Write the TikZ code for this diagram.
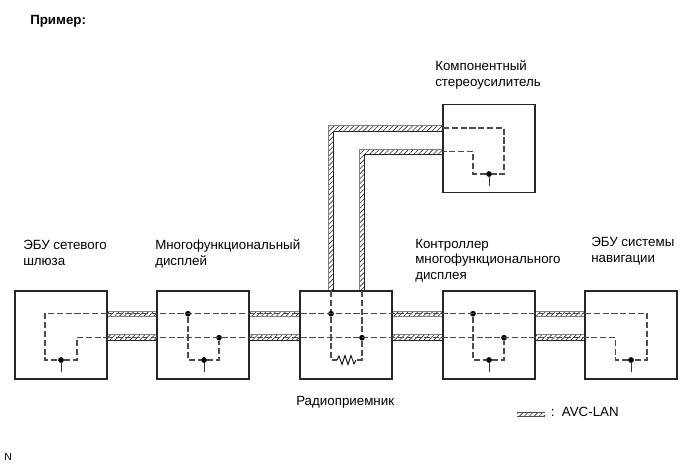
\documentclass[tikz,border=0pt]{standalone}
\usepackage{fontspec}
\setmainfont{Liberation Sans}
\usetikzlibrary{patterns.meta}
\tikzset{
  unit/.style={draw=black!85,line width=1.1pt,fill=none,minimum width=69pt,minimum height=66pt,inner sep=0pt,outer sep=0pt},
  sig/.style={draw=black!70,line width=0.85pt,dash pattern=on 4.6pt off 2pt},
  dotn/.style={circle,fill=black,inner sep=0pt,minimum size=4.3pt},
  stub/.style={draw=black!80,line width=0.7pt},
  cablefill/.style={pattern={Lines[angle=45,distance=2.6pt,line width=0.45pt]},pattern color=black!85},
  edgegray/.style={draw=black!50,line width=0.7pt},
  edgeblack/.style={draw=black!85,line width=0.65pt},
  lbl/.style={anchor=base west,inner sep=0pt,font=\fontsize{10}{12}\selectfont},
}
\newcommand{\hcable}[4]{% from, to, y top, y bottom
  \fill[cablefill] (#1 |- 0,#3) rectangle (#2 |- 0,#4);
  \draw[edgegray] (#1 |- 0,#3) -- (#2 |- 0,#3);
  \draw[edgegray] (#1 |- 0,#4) -- (#2 |- 0,#4);
}
\newcommand{\hcableb}[4]{%
  \fill[cablefill] (#1 |- 0,#3) rectangle (#2 |- 0,#4);
  \draw[edgegray] (#1 |- 0,#3) -- (#2 |- 0,#3);
  \draw[edgeblack] (#1 |- 0,#4) -- (#2 |- 0,#4);
}
\begin{document}
\begin{tikzpicture}[x=0.75pt,y=-0.75pt]
\useasboundingbox (0,0) rectangle (690,465);
% units
\node[unit] (b1) at (61,335) {};
\node[unit] (b2) at (203,335) {};
\node[unit] (b3) at (346,335) {};
\node[unit] (b4) at (489,335) {};
\node[unit] (b5) at (631,335) {};
\node[unit] (amp) at (489,148.5) {};
% horizontal cables
\foreach \a/\b in {b1/b2,b2/b3,b3/b4,b4/b5}{
  \hcable{\a.east}{\b.west}{311.5}{316}
  \hcableb{\a.east}{\b.west}{334.5}{340}
}
% L-shaped cables
\fill[cablefill] (328,0 |- b3.north) -- (328,125.5) -- (amp.west |- 0,125.5) -- (amp.west |- 0,131) -- (333.5,131) -- (333.5,0 |- b3.north) -- cycle;
\fill[cablefill] (359,0 |- b3.north) -- (359,149) -- (amp.west |- 0,149) -- (amp.west |- 0,154.5) -- (364.5,154.5) -- (364.5,0 |- b3.north) -- cycle;
\draw[edgegray] (328,0 |- b3.north) -- (328,125.5) -- (amp.west |- 0,125.5);
\draw[edgeblack] (333.5,0 |- b3.north) -- (333.5,131) -- (amp.west |- 0,131);
\draw[edgegray] (359,0 |- b3.north) -- (359,149) -- (amp.west |- 0,149);
\draw[edgeblack] (364.5,0 |- b3.north) -- (364.5,154.5) -- (amp.west |- 0,154.5);
% redraw unit outlines over cable ends
\foreach \n in {b1,b2,b3,b4,b5,amp}{\draw[draw=black!85,line width=1.1pt] (\n.north west) rectangle (\n.south east);}
% dots
\node[dotn] (d1) at (61,360) {};
\node[dotn] (d2a) at (188,313.7) {};
\node[dotn] (d2b) at (219,337.7) {};
\node[dotn] (d2c) at (204,360) {};
\node[dotn] (d3a) at (331,313.7) {};
\node[dotn] (d3b) at (362,337.7) {};
\node[dotn] (d4a) at (473,313.7) {};
\node[dotn] (d4b) at (504,337.7) {};
\node[dotn] (d4c) at (489,360) {};
\node[dotn] (d5) at (631,360) {};
\node[dotn] (da) at (489,174) {};
% box 1
\draw[sig] (b1.east |- 0,313.7) -- (45,313.7) -- (45,360) -- (d1) -- (77,360) -- (77,337.7) -- (b1.east |- 0,337.7);
\draw[stub] (d1) -- (61,372);
% horizontal dashed through boxes 2,3,4 and cables
\draw[sig] (b1.east |- 0,313.7) -- (b5.west |- 0,313.7);
\draw[sig] (b1.east |- 0,337.7) -- (b5.west |- 0,337.7);
% box 2
\draw[sig] (d2a) -- (188,360) -- (d2c) -- (219,360) -- (d2b);
\draw[stub] (d2c) -- (204,372);
% box 3
\draw[sig] (d3a |- b3.north) -- (d3a) -- (331,360) -- (337,360);
\draw[sig] (d3b |- b3.north) -- (d3b) -- (362,360) -- (356,360);
\draw[line width=0.6pt] (337,360) -- (339,356) -- (342,364.5) -- (345,355.5) -- (348,364.5) -- (351,355.5) -- (354,364) -- (356,360);
% box 4
\draw[sig] (d4a) -- (473,360) -- (d4c) -- (504,360) -- (d4b);
\draw[stub] (d4c) -- (489,372);
% box 5
\draw[sig] (b5.west |- 0,313.7) -- (647,313.7) -- (647,360) -- (d5) -- (615.5,360) -- (615.5,337.7) -- (b5.west |- 0,337.7);
\draw[stub] (d5) -- (631,372);
% amp
\draw[sig] (amp.west |- 0,128) -- (504,128) -- (504,174) -- (da) -- (473,174) -- (473,151.7) -- (amp.west |- 0,151.7);
\draw[stub] (da) -- (489,186);
% texts
\node[lbl,font=\fontsize{10}{12}\selectfont\bfseries] (t0) at (30,24.5) {Пример:};
\node[lbl] (t1) at (435,70.5) {Компонентный};
\node[lbl] (t2) at (435,86.5) {стереоусилитель};
\node[lbl] (t3) at (23,249) {ЭБУ сетевого};
\node[lbl] (t4) at (23,265) {шлюза};
\node[lbl] (t5) at (155,249) {Многофункциональный};
\node[lbl] (t6) at (155,265) {дисплей};
\node[lbl] (t7) at (415,248) {Контроллер};
\node[lbl] (t8) at (415,263.5) {многофункционального};
\node[lbl] (t9) at (415,279) {дисплея};
\node[lbl] (t10) at (591,246) {ЭБУ системы};
\node[lbl] (t11) at (591,262) {навигации};
\node[lbl] (t12) at (296,405) {Радиоприемник};
\node[lbl] (t13) at (550.5,416) {:\ \ AVC-LAN};
\node[lbl,font=\fontsize{7.8}{9}\selectfont] (t14) at (4,460) {N};
% legend
\coordinate (l1) at (517,412);
\coordinate (l2) at (545,416.5);
\fill[cablefill] (l1) rectangle (l2);
\draw[line width=0.5pt,draw=black!70] (l1) -- (l1 -| l2) (l1 |- l2) -- (l2);
\end{tikzpicture}
\end{document}
